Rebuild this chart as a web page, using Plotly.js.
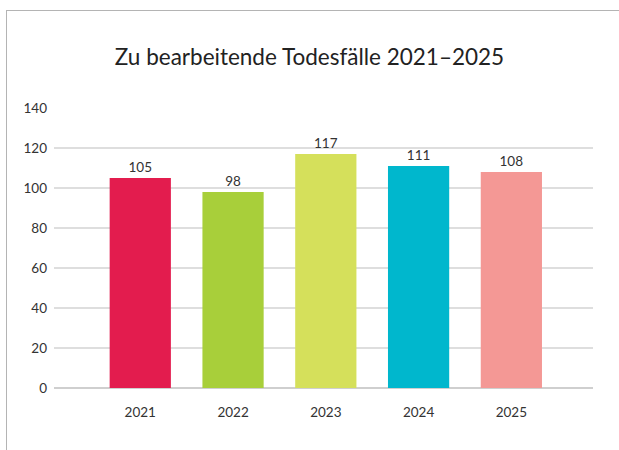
<!DOCTYPE html>
<html>
<head>
<meta charset="utf-8">
<script src="https://cdn.plot.ly/plotly-3.0.1.min.js"></script>
<style>
html,body{margin:0;padding:0;background:#fff;}
#wrap{position:relative;width:619px;height:450px;overflow:hidden;}
#frame{position:absolute;left:6px;top:10px;width:640px;height:460px;border-left:1.5px solid #b4b4b4;border-top:1.5px solid #b4b4b4;pointer-events:none;}
#chart{position:absolute;left:0;top:0;width:619px;height:450px;}
</style>
</head>
<body>
<div id="wrap">
<div id="chart"></div>
<div id="frame"></div>
</div>
<script>
const years = ["2021", "2022", "2023", "2024", "2025"];
const cases = [105, 98, 117, 111, 108];
const barColors = ["#e31c4e", "#a8cf3a", "#d5e05b", "#00b7cd", "#f49895"];
const yTicks = [0, 20, 40, 60, 80, 100, 120, 140];

const trace = {
  type: "bar",
  x: years,
  y: cases,
  marker: {color: barColors},
  width: 0.66,
  text: cases.map(String),
  textposition: "outside",
  cliponaxis: false,
  textfont: {family: "Lato, 'Open Sans', sans-serif", size: 13.5, color: "#333"},
  hoverinfo: "none"
};

const layout = {
  width: 619,
  height: 450,
  margin: {l: 54, r: 26, t: 108, b: 62},
  paper_bgcolor: "rgba(0,0,0,0)",
  plot_bgcolor: "rgba(0,0,0,0)",
  showlegend: false,
  title: {
    text: "Zu bearbeitende Todesfälle 2021–2025",
    font: {family: "Lato, 'Open Sans', sans-serif", size: 22.5, color: "#222"},
    x: 0.5, xanchor: "center",
    y: 1 - 57/450, yanchor: "middle", yref: "container"
  },
  xaxis: {
    type: "category",
    range: [-0.93, 4.88],
    showgrid: false,
    zeroline: false,
    showline: false,
    ticks: "",
    ticklabelstandoff: 14,
    tickfont: {family: "Lato, 'Open Sans', sans-serif", size: 13.5, color: "#333"},
    fixedrange: true
  },
  yaxis: {
    range: [0, 140],
    tickvals: yTicks,
    showgrid: true,
    gridcolor: "#dedede",
    gridwidth: 1.5,
    zeroline: true,
    zerolinecolor: "#cfcfcf",
    zerolinewidth: 1.5,
    showline: false,
    ticks: "",
    ticklabelstandoff: 6,
    tickfont: {family: "Lato, 'Open Sans', sans-serif", size: 13.5, color: "#333"},
    fixedrange: true
  },
  bargap: 0.3
};

Plotly.newPlot("chart", [trace], layout, {displayModeBar: false, staticPlot: true});
</script>
</body>
</html>
